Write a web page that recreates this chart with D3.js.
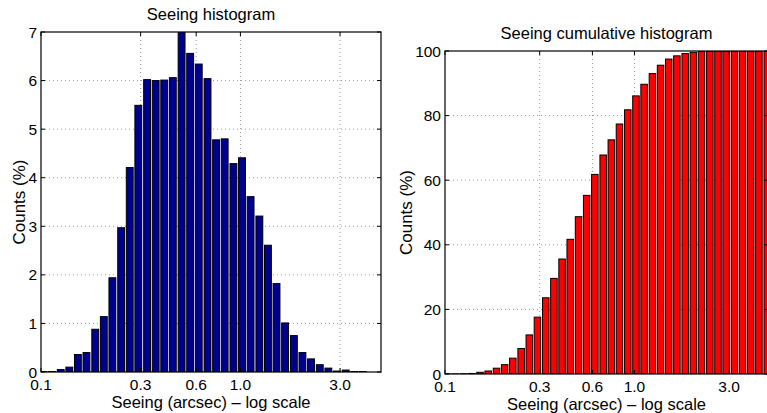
<!DOCTYPE html>
<html>
<head>
<meta charset="utf-8">
<script src="https://cdn.jsdelivr.net/npm/d3@7"></script>
<style>
  body { margin: 0; background: #fff; }
  svg { display: block; font-family: "Liberation Sans", Arial, sans-serif; }
</style>
</head>
<body>
<div id="chart"></div>
<script>
// bin centres, log10(seeing / arcsec)
var binLog = [-0.988, -0.945, -0.901, -0.858, -0.815, -0.772, -0.728, -0.685, -0.642, -0.598,
              -0.555, -0.512, -0.468, -0.425, -0.382, -0.339, -0.295, -0.252, -0.209, -0.165,
              -0.122, -0.079, -0.035, 0.008, 0.051, 0.095, 0.138, 0.181, 0.224, 0.268,
              0.311, 0.354, 0.398, 0.441, 0.484, 0.528, 0.571, 0.614, 0.657, 0.701];

// percent per bin
var histPct = [0.01, 0.01, 0.05, 0.10, 0.36, 0.40, 0.88, 1.14, 1.94, 2.97,
               4.21, 5.49, 6.02, 6.00, 6.01, 6.06, 7.00, 6.56, 6.34, 6.04,
               4.78, 4.80, 4.29, 4.41, 3.61, 3.21, 2.61, 1.82, 1.01, 0.75,
               0.40, 0.27, 0.15, 0.08, 0.02, 0.04, 0.01, 0.01, 0.0, 0.0];

// cumulative percent per bin
var cumPct = [0.01, 0.02, 0.07, 0.17, 0.53, 0.93, 1.8, 2.9, 4.9, 7.9,
              12.1, 17.6, 23.6, 29.6, 35.6, 41.7, 48.7, 55.3, 61.8, 67.8,
              72.5, 77.4, 81.8, 86.1, 89.7, 93.0, 95.6, 97.5, 98.5, 99.2,
              99.6, 99.8, 99.9, 100, 100, 100, 100, 100, 100, 100];

// x ticks (arcsec) and their labels
var xTickVals = [0.1, 0.316, 0.6, 1.0, 3.16];
var xTickLabels = ["0.1", "0.3", "0.6", "1.0", "3.0"];
var histYTicks = [0, 1, 2, 3, 4, 5, 6, 7];
var cumYTicks = [0, 20, 40, 60, 80, 100];

var W = 767, H = 413;
var svg = d3.select("#chart").append("svg")
  .attr("width", W)
  .attr("height", H);

function drawPanel(p) {
  var x = d3.scaleLinear().domain([-1, 0.705]).range([p.left, p.right]);
  var y = d3.scaleLinear().domain([0, p.yMax]).range([p.bottom, p.top]);
  var step = x(binLog[1]) - x(binLog[0]);
  var bw = step * 0.8;

  var g = svg.append("g");
  var clipId = "clip" + p.id;
  g.append("clipPath").attr("id", clipId)
    .append("rect")
    .attr("x", p.left).attr("y", p.top)
    .attr("width", p.right - p.left).attr("height", p.bottom - p.top);

  // grid lines (behind the bars)
  g.selectAll(".vgrid")
    .data(xTickVals.slice(1))
    .enter().append("line")
    .attr("x1", function (d) { return x(Math.log10(d)); })
    .attr("x2", function (d) { return x(Math.log10(d)); })
    .attr("y1", p.top).attr("y2", p.bottom)
    .attr("stroke", "#9a9a9a").attr("stroke-width", 1)
    .attr("stroke-dasharray", "1,3");
  g.selectAll(".hgrid")
    .data(p.yTicks.slice(1, -1))
    .enter().append("line")
    .attr("x1", p.left).attr("x2", p.right)
    .attr("y1", function (d) { return y(d); })
    .attr("y2", function (d) { return y(d); })
    .attr("stroke", "#9a9a9a").attr("stroke-width", 1)
    .attr("stroke-dasharray", "1,3");

  // bars
  g.append("g").attr("clip-path", "url(#" + clipId + ")")
    .selectAll("rect")
    .data(p.values)
    .enter().append("rect")
    .attr("x", function (d, i) { return x(binLog[i]) - bw / 2; })
    .attr("y", function (d) { return y(d); })
    .attr("width", bw)
    .attr("height", function (d) { return p.bottom - y(d); })
    .attr("fill", p.color)
    .attr("stroke", "#000")
    .attr("stroke-width", 1);

  // box
  g.append("rect")
    .attr("x", p.left).attr("y", p.top)
    .attr("width", p.right - p.left).attr("height", p.bottom - p.top)
    .attr("fill", "none").attr("stroke", "#000").attr("stroke-width", 1.2);

  // inward ticks on all sides
  var tl = 4;
  xTickVals.forEach(function (d) {
    var xx = x(Math.log10(d));
    g.append("line").attr("x1", xx).attr("x2", xx)
      .attr("y1", p.bottom).attr("y2", p.bottom - tl).attr("stroke", "#000");
    g.append("line").attr("x1", xx).attr("x2", xx)
      .attr("y1", p.top).attr("y2", p.top + tl).attr("stroke", "#000");
  });
  p.yTicks.forEach(function (d) {
    var yy = y(d);
    g.append("line").attr("x1", p.left).attr("x2", p.left + tl)
      .attr("y1", yy).attr("y2", yy).attr("stroke", "#000");
    g.append("line").attr("x1", p.right).attr("x2", p.right - tl)
      .attr("y1", yy).attr("y2", yy).attr("stroke", "#000");
  });

  // tick labels
  g.selectAll(".xlab")
    .data(xTickVals)
    .enter().append("text")
    .attr("x", function (d) { return x(Math.log10(d)); })
    .attr("y", p.bottom + 18)
    .attr("text-anchor", "middle")
    .attr("font-size", 15.5)
    .text(function (d, i) { return xTickLabels[i]; });
  g.selectAll(".ylab")
    .data(p.yTicks)
    .enter().append("text")
    .attr("x", p.left - 4)
    .attr("y", function (d) { return y(d); })
    .attr("dy", "0.36em")
    .attr("text-anchor", "end")
    .attr("font-size", 15.5)
    .text(function (d) { return d; });

  // title and axis labels
  g.append("text")
    .attr("x", (p.left + p.right) / 2)
    .attr("y", p.top - 12)
    .attr("text-anchor", "middle")
    .attr("font-size", 16.5)
    .text(p.title);
  g.append("text")
    .attr("x", (p.left + p.right) / 2)
    .attr("y", p.bottom + 36)
    .attr("text-anchor", "middle")
    .attr("font-size", 16.5)
    .text("Seeing (arcsec) \u2013 log scale");
  g.append("text")
    .attr("transform", "translate(" + (p.left - p.ylabOff) + "," + ((p.top + p.bottom) / 2) + ") rotate(-90)")
    .attr("text-anchor", "middle")
    .attr("font-size", 17)
    .text("Counts (%)");
}

drawPanel({
  id: "a", left: 41, right: 381, top: 32, bottom: 372,
  yMax: 7, yTicks: histYTicks, values: histPct, color: "#00008f",
  title: "Seeing histogram", ylabOff: 16
});

drawPanel({
  id: "b", left: 445, right: 768, top: 51, bottom: 374,
  yMax: 100, yTicks: cumYTicks, values: cumPct, color: "#ff0000",
  title: "Seeing cumulative histogram", ylabOff: 33
});
</script>
</body>
</html>
